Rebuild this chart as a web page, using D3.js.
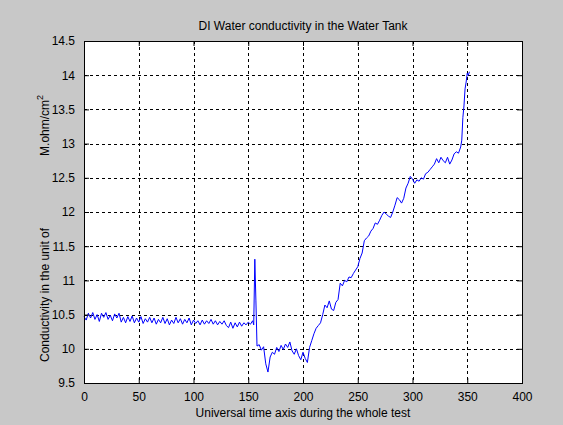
<!DOCTYPE html>
<html>
<head>
<meta charset="utf-8">
<script src="https://cdn.jsdelivr.net/npm/d3@7"></script>
<style>
  body { margin: 0; background: #c8c8c8; }
  svg { display: block; font-family: "Liberation Sans", Arial, sans-serif; }
</style>
</head>
<body>
<div id="chart"></div>
<script>
var width = 563,
    height = 425;

var margin = {top: 41, right: 41, bottom: 42, left: 84};

var chartTitle = "DI Water conductivity in the Water Tank";
var xLabel = "Universal time axis during the whole test";

var xTicks = [0, 50, 100, 150, 200, 250, 300, 350, 400];
var yTicks = [9.5, 10, 10.5, 11, 11.5, 12, 12.5, 13, 13.5, 14, 14.5];

// time samples
var time = [
  0, 2, 4, 6, 8, 10, 12, 14, 16, 18, 20, 22, 24, 26, 28, 30, 32, 34, 36, 38,
  40, 42, 44, 46, 48, 50, 52, 54, 56, 58, 60, 62, 64, 66, 68, 70, 72, 74, 76, 78,
  80, 82, 84, 86, 88, 90, 92, 94, 96, 98, 100, 102, 104, 106, 108, 110, 112, 114, 116, 118,
  120, 122, 124, 126, 128, 130, 132, 134, 136, 138, 140, 142, 144, 146, 148, 150, 152, 154, 155, 156,
  157, 158, 160, 162, 164, 166, 168, 170, 172, 174, 176, 178, 180, 182, 184, 186, 188, 190, 192, 194,
  196, 198, 200, 202, 204, 206, 208, 210, 212, 214, 216, 218, 220, 222, 224, 226, 228, 230, 232, 234,
  236, 238, 240, 242, 244, 246, 248, 250, 252, 254, 256, 258, 260, 262, 264, 266, 268, 270, 272, 274,
  276, 278, 280, 282, 284, 286, 288, 290, 292, 294, 296, 298, 300, 302, 304, 306, 308, 310, 312, 314,
  316, 318, 320, 322, 324, 326, 328, 330, 332, 334, 336, 338, 340, 342, 344, 345, 346, 347, 348, 349,
  350, 351, 352
];

// conductivity (M.ohm/cm2)
var conductivity = [
  10.47, 10.42, 10.52, 10.45, 10.53, 10.43, 10.50, 10.40, 10.52, 10.46, 10.53, 10.43, 10.49, 10.41, 10.51, 10.45, 10.52, 10.39, 10.46, 10.38,
  10.47, 10.40, 10.48, 10.38, 10.45, 10.39, 10.47, 10.37, 10.44, 10.39, 10.46, 10.38, 10.45, 10.36, 10.43, 10.38, 10.46, 10.37, 10.44, 10.35,
  10.42, 10.37, 10.46, 10.38, 10.44, 10.36, 10.43, 10.38, 10.45, 10.35, 10.42, 10.37, 10.41, 10.35, 10.42, 10.36, 10.41, 10.37, 10.43, 10.36,
  10.41, 10.35, 10.40, 10.36, 10.41, 10.34, 10.31, 10.39, 10.30, 10.38, 10.32, 10.39, 10.33, 10.38, 10.35, 10.39, 10.36, 10.41, 10.35, 11.31,
  10.70, 10.04, 10.06, 9.98, 10.03, 9.78, 9.66, 9.88, 9.95, 9.92, 10.02, 9.96, 10.05, 9.99, 10.07, 10.02, 10.10, 9.97, 9.92, 10.00,
  9.90, 9.84, 9.95, 9.86, 9.80, 10.02, 10.12, 10.22, 10.30, 10.34, 10.38, 10.50, 10.64, 10.60, 10.70, 10.58, 10.56, 10.68, 10.72, 10.96,
  10.92, 11.00, 10.98, 11.05, 11.04, 11.10, 11.15, 11.20, 11.32, 11.40, 11.58, 11.62, 11.65, 11.72, 11.76, 11.84, 11.82, 11.88, 11.95, 12.00,
  11.97, 11.94, 11.92, 12.00, 12.10, 12.21, 12.18, 12.13, 12.20, 12.35, 12.42, 12.52, 12.48, 12.42, 12.47, 12.45, 12.50, 12.48, 12.56, 12.58,
  12.62, 12.66, 12.70, 12.78, 12.72, 12.80, 12.75, 12.72, 12.80, 12.70, 12.76, 12.85, 12.88, 12.86, 12.95, 13.05, 13.38, 13.55, 13.80, 13.90,
  14.03, 14.00, 14.05
];

var data = time.map(function(t, i) { return {t: t, v: conductivity[i]}; });

var svg = d3.select("#chart").append("svg")
    .attr("width", width)
    .attr("height", height);

var innerW = width - margin.left - margin.right,
    innerH = height - margin.top - margin.bottom;

var x = d3.scaleLinear().domain([0, 400]).range([margin.left, margin.left + innerW]);
var y = d3.scaleLinear().domain([9.5, 14.5]).range([margin.top + innerH, margin.top]);

// white axes box
svg.append("rect")
    .attr("x", margin.left).attr("y", margin.top)
    .attr("width", innerW).attr("height", innerH)
    .attr("fill", "#fff");

// grid
var grid = svg.append("g").attr("class", "grid")
    .attr("stroke", "#000").attr("stroke-width", 1).attr("stroke-dasharray", "3,3")
    .attr("shape-rendering", "crispEdges");

grid.selectAll(".gx").data(xTicks.slice(1, -1)).enter().append("line")
    .attr("x1", function(d) { return Math.round(x(d)) + 0.5; })
    .attr("x2", function(d) { return Math.round(x(d)) + 0.5; })
    .attr("y1", margin.top).attr("y2", margin.top + innerH);

grid.selectAll(".gy").data(yTicks.slice(1, -1)).enter().append("line")
    .attr("y1", function(d) { return Math.round(y(d)) + 0.5; })
    .attr("y2", function(d) { return Math.round(y(d)) + 0.5; })
    .attr("x1", margin.left).attr("x2", margin.left + innerW);

// data line
var line = d3.line()
    .x(function(d) { return x(d.t); })
    .y(function(d) { return y(d.v); });

svg.append("path")
    .datum(data)
    .attr("fill", "none")
    .attr("stroke", "#0000ff")
    .attr("stroke-width", 1)
    .attr("d", line);

// axes (ticks pointing inward, matlab style)
var axisFont = function(g) {
  g.select(".domain").remove();
  g.selectAll("text").attr("font-family", "Liberation Sans, Arial, sans-serif")
    .attr("font-size", 12).attr("fill", "#000");
  g.selectAll("line").attr("stroke", "#000");
};

svg.append("g")
    .attr("transform", "translate(0," + (margin.top + innerH) + ")")
    .call(d3.axisBottom(x).tickValues(xTicks).tickSizeInner(-5).tickSizeOuter(0).tickPadding(9)
      .tickFormat(d3.format("d")))
    .call(axisFont);

svg.append("g")
    .attr("transform", "translate(0," + margin.top + ")")
    .call(d3.axisTop(x).tickValues(xTicks).tickSizeInner(-5).tickSizeOuter(0).tickFormat(""))
    .call(axisFont);

svg.append("g")
    .attr("transform", "translate(" + margin.left + ",0)")
    .call(d3.axisLeft(y).tickValues(yTicks).tickSizeInner(-5).tickSizeOuter(0).tickPadding(9)
      .tickFormat(function(d) { return String(d); }))
    .call(axisFont);

svg.append("g")
    .attr("transform", "translate(" + (margin.left + innerW) + ",0)")
    .call(d3.axisRight(y).tickValues(yTicks).tickSizeInner(-5).tickSizeOuter(0).tickFormat(""))
    .call(axisFont);

// box
svg.append("rect")
    .attr("x", margin.left + 0.5).attr("y", margin.top + 0.5)
    .attr("width", innerW).attr("height", innerH)
    .attr("fill", "none").attr("stroke", "#000").attr("stroke-width", 1);

// titles
svg.append("text")
    .attr("x", margin.left + innerW / 2).attr("y", 30)
    .attr("text-anchor", "middle").attr("font-size", 12)
    .text(chartTitle);

svg.append("text")
    .attr("x", margin.left + innerW / 2).attr("y", 417)
    .attr("text-anchor", "middle").attr("font-size", 12)
    .text(xLabel);

var yl = svg.append("text")
    .attr("transform", "translate(49,362) rotate(-90)")
    .attr("text-anchor", "start").attr("font-size", 12);
yl.append("tspan").text("Conductivity in the unit of");
yl.append("tspan").attr("dx", 72).text("M.ohm/cm");
yl.append("tspan").attr("dy", -6).attr("font-size", 9).text("2");
</script>
</body>
</html>
